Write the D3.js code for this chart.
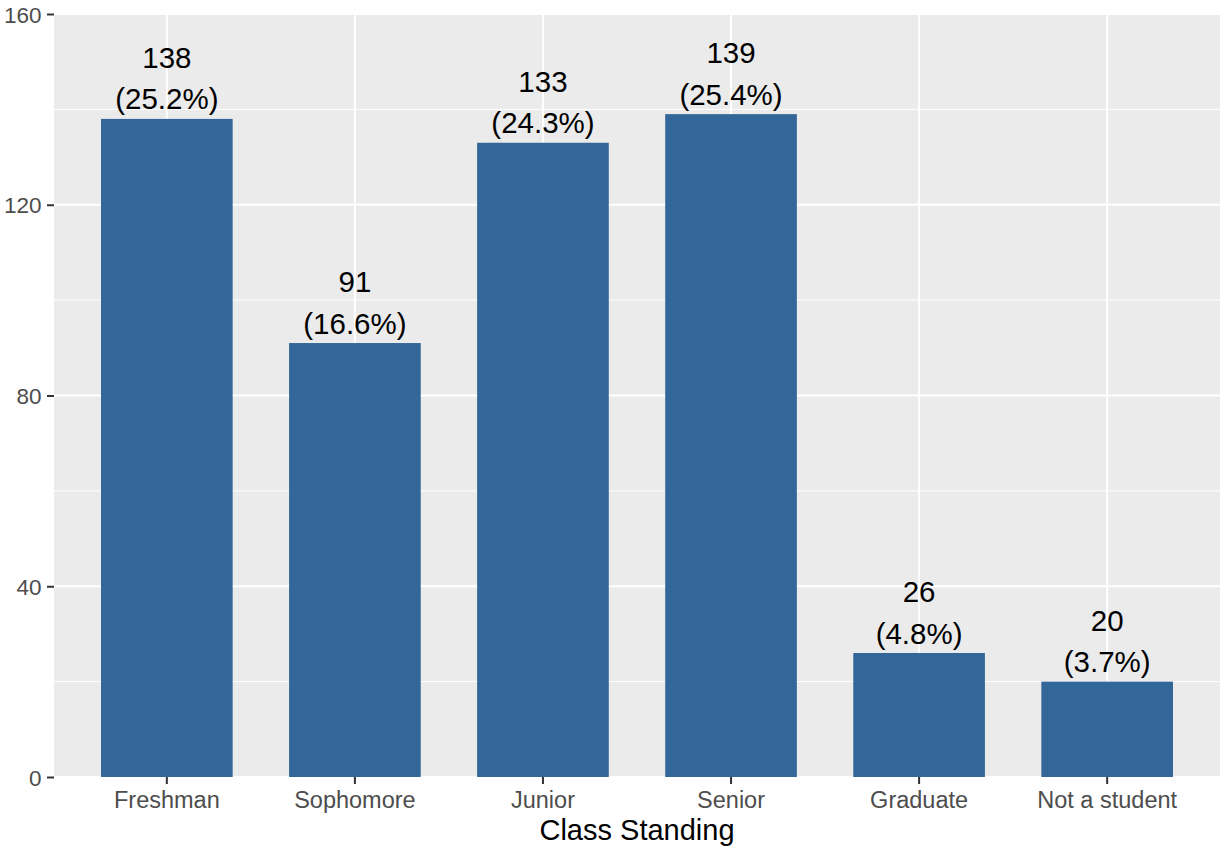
<!DOCTYPE html>
<html>
<head>
<meta charset="utf-8">
<script src="https://cdn.jsdelivr.net/npm/d3@7"></script>
<style>
  html, body { margin: 0; padding: 0; background: #ffffff; }
  svg { display: block; font-family: "Liberation Sans", Arial, Helvetica, sans-serif; }
</style>
</head>
<body>
<svg id="chart" width="1220" height="850"></svg>
<script>
const categories = ["Freshman", "Sophomore", "Junior", "Senior", "Graduate", "Not a student"];
const counts = [138, 91, 133, 139, 26, 20];
const percents = ["25.2%", "16.6%", "24.3%", "25.4%", "4.8%", "3.7%"];
const yTicks = [0, 40, 80, 120, 160];
const yMinor = [20, 60, 100, 140];
const xTitle = "Class Standing";

const svg = d3.select("#chart");
const panel = { left: 54, right: 1220, top: 14, bottom: 777 };

const x = d3.scaleBand()
  .domain(categories)
  .range([panel.left, panel.right])
  .paddingInner(0.3)
  .paddingOuter(0.25);
const y = d3.scaleLinear().domain([0, 160]).range([panel.bottom, panel.top]);

// panel background
svg.append("rect")
  .attr("x", panel.left).attr("y", panel.top)
  .attr("width", panel.right - panel.left).attr("height", panel.bottom - panel.top)
  .attr("fill", "#EBEBEB");

// minor gridlines
svg.append("g").selectAll("line").data(yMinor).join("line")
  .attr("x1", panel.left).attr("x2", panel.right)
  .attr("y1", d => y(d)).attr("y2", d => y(d))
  .attr("stroke", "#ffffff").attr("stroke-width", 1);

// major gridlines
svg.append("g").selectAll("line").data(yTicks).join("line")
  .attr("x1", panel.left).attr("x2", panel.right)
  .attr("y1", d => y(d)).attr("y2", d => y(d))
  .attr("stroke", "#ffffff").attr("stroke-width", 2);
svg.append("g").selectAll("line").data(categories).join("line")
  .attr("x1", d => x(d) + x.bandwidth() / 2).attr("x2", d => x(d) + x.bandwidth() / 2)
  .attr("y1", panel.top).attr("y2", panel.bottom)
  .attr("stroke", "#ffffff").attr("stroke-width", 2);

// bars
svg.append("g").selectAll("rect").data(categories).join("rect")
  .attr("x", d => x(d))
  .attr("y", (d, i) => y(counts[i]))
  .attr("width", x.bandwidth())
  .attr("height", (d, i) => y(0) - y(counts[i]))
  .attr("fill", "#336699");

// bar labels
const lab = svg.append("g").attr("font-size", 29.5).attr("fill", "#000").attr("text-anchor", "middle");
categories.forEach((c, i) => {
  const cx = x(c) + x.bandwidth() / 2;
  const top = y(counts[i]);
  lab.append("text").attr("x", cx).attr("y", top - 51).text(counts[i]);
  lab.append("text").attr("x", cx).attr("y", top - 9.5).text("(" + percents[i] + ")");
});

// y axis
const yAxis = d3.axisLeft(y).tickValues(yTicks).tickSize(7).tickPadding(5.5);
const gy = svg.append("g").attr("transform", `translate(${panel.left},0)`).call(yAxis);
gy.select(".domain").remove();
gy.selectAll(".tick line").attr("stroke", "#333333").attr("stroke-width", 2);
gy.selectAll(".tick text")
  .attr("fill", "#4D4D4D").attr("font-size", 22.5)
  .attr("font-family", "\"Liberation Sans\", Arial, Helvetica, sans-serif")
  .attr("dy", "0.36em");

// x axis
const xAxis = d3.axisBottom(x).tickSize(7).tickPadding(5.5);
const gx = svg.append("g").attr("transform", `translate(0,${panel.bottom})`).call(xAxis);
gx.select(".domain").remove();
gx.selectAll(".tick line").attr("stroke", "#333333").attr("stroke-width", 2);
gx.selectAll(".tick text")
  .attr("fill", "#4D4D4D").attr("font-size", 23.5)
  .attr("font-family", "\"Liberation Sans\", Arial, Helvetica, sans-serif")
  .attr("dy", null).attr("y", 30.5);

// x title
svg.append("text")
  .attr("x", (panel.left + panel.right) / 2).attr("y", 840)
  .attr("text-anchor", "middle").attr("font-size", 29).attr("fill", "#000")
  .text(xTitle);
</script>
</body>
</html>
